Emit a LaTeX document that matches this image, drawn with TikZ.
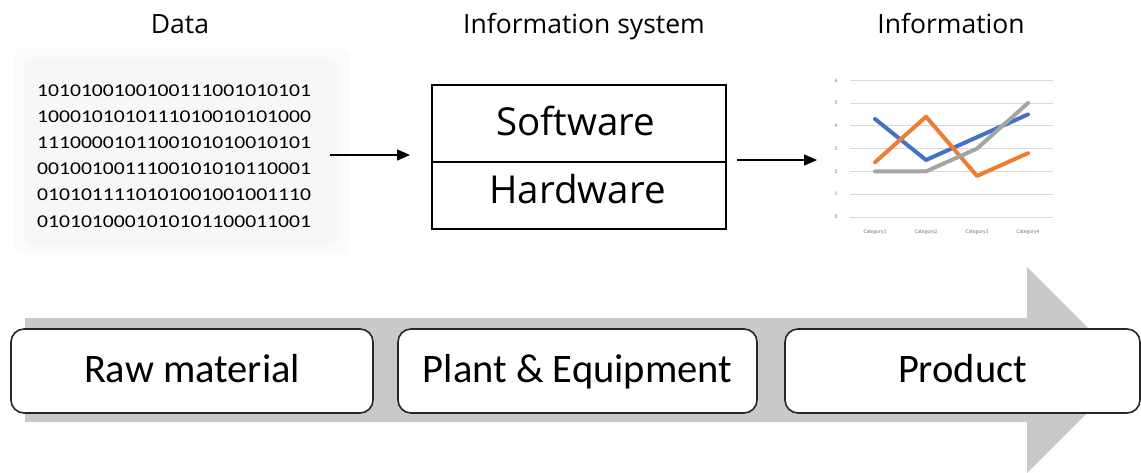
\documentclass[tikz,border=0pt]{standalone}
\usepackage{fontspec}
\setmainfont{Carlito}
\newfontfamily\uifont{Open Sans}
\usetikzlibrary{arrows.meta}
\definecolor{sblue}{HTML}{4472C4}
\definecolor{sorange}{HTML}{ED7D31}
\definecolor{sgray}{HTML}{A5A5A5}
\definecolor{flowgray}{HTML}{C9C9C9}
\definecolor{gridgray}{HTML}{D9D9D9}
\tikzset{
  title/.style={font=\uifont\fontsize{26.5}{30}\selectfont, anchor=base, inner sep=0pt},
  bits/.style={font=\fontsize{18}{22}\selectfont, anchor=base west, inner sep=0pt, xscale=1.2},
  istext/.style={font=\uifont\fontsize{38.5}{44}\selectfont, anchor=base, inner sep=0pt},
  arr/.style={line width=1.5pt, -{Triangle[length=13pt,width=11pt]}},
  stage/.style={draw=black!85, line width=1.6pt, rounded corners=13pt, fill=white,
    minimum height=84pt, text height=30pt, text depth=8pt, inner sep=0pt,
    font=\fontsize{40.5}{46}\selectfont},
  series/.style={line width=4pt, line join=round, line cap=round},
  axlab/.style={font=\fontsize{5.5}{6}\selectfont, text=black!55, inner sep=0pt},
}
\begin{document}
\begin{tikzpicture}[x=1pt,y=-1pt]
\useasboundingbox (0,0) rectangle (1141,472);

% titles
\node[title] (tdata) at (180,33) {Data};
\node[title] (tis) at (584,33) {Information system};
\node[title] (tinfo) at (951,33) {Information};

% raw bits on a faint panel
\fill[black!1.5, rounded corners=10pt] (14,48) rectangle (349,254);
\fill[black!3, rounded corners=8pt] (24,58) rectangle (339,246);
\node[bits] (b1) at (37,96.0)  {1010100100100111001010101};
\node[bits] (b2) at (37,122.2) {1000101010111010010101000};
\node[bits] (b3) at (37,148.4) {1110000101100101010010101};
\node[bits] (b4) at (37,174.6) {0010010011100101010110001};
\node[bits] (b5) at (37,200.8) {0101011110101001001001110};
\node[bits] (b6) at (37,227.0) {0101010001010101100011001};

% information system
\node[draw, line width=1.3pt, minimum width=294pt, minimum height=144pt, inner sep=0pt] (is) at (579,157) {};
\draw[line width=1.3pt] (is.west |- 0,162) -- (is.east |- 0,162);
\node[istext] (sw) at (576,135) {Software};
\node[istext] (hw) at (577.5,203) {Hardware};

% flow arrows
\coordinate (a1s) at (330,155);
\coordinate (a1e) at (410,155);
\coordinate (a2s) at (737,160);
\coordinate (a2e) at (817,160);
\draw[arr] (a1s) -- (a1e);
\draw[arr] (a2s) -- (a2e);

% line chart
\foreach \v in {0,...,6} {
  \draw[gridgray, line width=0.9pt] (850,{217-\v*22.8}) -- (1053,{217-\v*22.8});
  \node[axlab] at (836,{217-\v*22.8}) {\v};
}
\foreach \c/\x in {1/875,2/926,3/977,4/1028} {
  \node[axlab] at (\x,232) {Category\c};
}
\begin{scope}[shift={(850,217)}, y=22.8pt]
  \draw[series, sblue]   (25,4.3) -- (76,2.5) -- (127,3.5) -- (178,4.5);
  \draw[series, sorange] (25,2.4) -- (76,4.4) -- (127,1.8) -- (178,2.8);
  \draw[series, sgray]   (25,2)   -- (76,2)   -- (127,3)   -- (178,5);
\end{scope}

% production flow arrow
\fill[flowgray] (25,318) -- (1027,318) -- (1027,267) -- (1130,370)
  -- (1027,473) -- (1027,422) -- (25,422) -- cycle;

% stages
\node[stage, minimum width=362pt] (raw) at (192,371) {Raw material};
\node[stage, minimum width=359pt] (plant) at (577.5,371) {Plant \& Equipment};
\node[stage, minimum width=355pt] (prod) at (962.5,371) {Product};
\end{tikzpicture}
\end{document}
